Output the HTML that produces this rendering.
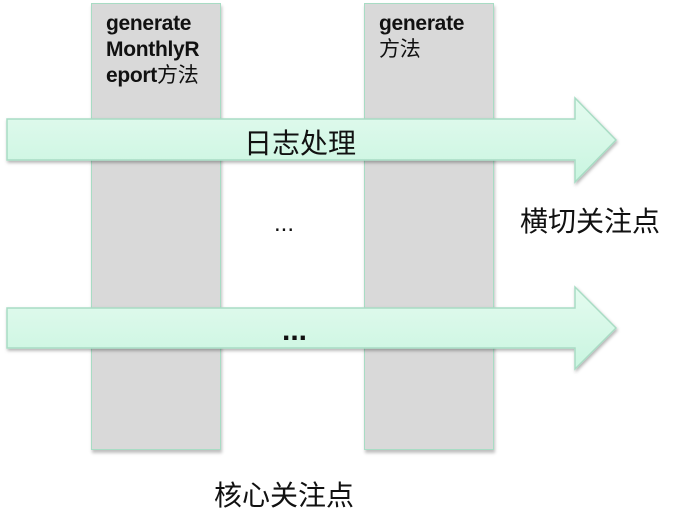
<!DOCTYPE html>
<html><head><meta charset="utf-8"><style>
body{margin:0;width:683px;height:525px;background:#fff;position:relative;overflow:hidden;font-family:"Liberation Sans","Noto Sans CJK SC",sans-serif}
.col{position:absolute;top:3px;height:447px;width:130px;background:#d9d9d9;border:1.5px solid #a8dcc4;box-sizing:border-box;box-shadow:1px 3px 3px rgba(0,0,0,.25)}
.t{position:absolute;font-size:21px;line-height:26px;color:#111;letter-spacing:-0.3px}
.t b{font-weight:bold}
.c{position:absolute;font-family:"Liberation Sans","Noto Sans CJK SC",sans-serif;color:#111;white-space:nowrap}
</style></head><body>
<div class="col" style="left:91px"></div>
<div class="col" style="left:364px"></div>
<div class="t" style="left:106px;top:11px"><b>generate<br>MonthlyR<br>eport</b>方法</div>
<div class="t" style="left:379px;top:11px"><b>generate</b><br>方法</div>
<svg width="683" height="525" style="position:absolute;left:0;top:0">
<defs><linearGradient id="g" x1="0" y1="0" x2="0" y2="1"><stop offset="0" stop-color="#e4fbef"/><stop offset="1" stop-color="#c9f5e0"/></linearGradient>
<filter id="s"><feDropShadow dx="1" dy="2" stdDeviation="1.5" flood-opacity=".3"/></filter></defs>
<polygon points="7,119 575,119 575,98 616,140 575,182 575,160 7,160" fill="url(#g)" stroke="#a8dcc4" stroke-width="1.5" filter="url(#s)"/>
<polygon points="7,308 575,308 575,287 616,328 575,369 575,348 7,348" fill="url(#g)" stroke="#a8dcc4" stroke-width="1.5" filter="url(#s)"/>
</svg>
<div class="c" style="left:244px;top:122px;font-size:28px">日志处理</div>
<div class="c" style="left:274px;top:210px;font-size:24px">...</div>
<div class="c" style="left:282px;top:314px;font-size:30px;font-weight:bold">...</div>
<div class="c" style="left:520px;top:200px;font-size:28px">横切关注点</div>
<div class="c" style="left:214px;top:474px;font-size:28px">核心关注点</div>
</body></html>
